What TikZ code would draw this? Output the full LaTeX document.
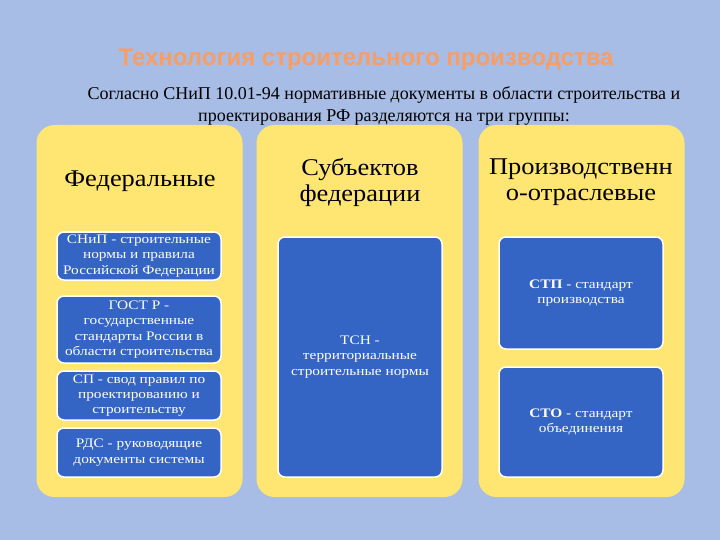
\documentclass[tikz,border=0pt]{standalone}
\usepackage{fontspec}
\setmainfont{Liberation Serif}
\newfontfamily\titlefont{Liberation Sans}
\newfontfamily\headfont[FakeStretch=1.1]{Liberation Serif}
\newfontfamily\itemfont[FakeStretch=1.18]{Liberation Serif}
\usepackage{xcolor}
\usetikzlibrary{positioning}

\definecolor{bgblue}{RGB}{168,189,229}
\definecolor{panelyellow}{RGB}{255,230,115}
\definecolor{itemblue}{RGB}{52,100,196}
\definecolor{titleorange}{RGB}{247,158,102}

\begin{document}
\begin{tikzpicture}[
    x=1pt, y=-1pt,
    panel/.style={fill=panelyellow, rounded corners=18pt, minimum width=206pt, minimum height=372pt, inner sep=0pt},
    item/.style={draw=white, line width=1.5pt, fill=itemblue, rounded corners=7pt, text=white, align=center,
                 font=\itemfont\fontsize{13}{15.3}\selectfont, minimum width=164pt, inner sep=1pt},
    heading/.style={align=center, font=\headfont\fontsize{24}{26}\selectfont},
]

    % Background
    \fill [bgblue] (0,0) rectangle (720,540);

    % Title
    \node [text=titleorange, font=\titlefont\bfseries\fontsize{24}{28}\selectfont] (title) at (366,60) {Технология строительного производства};
    \node [align=center, font=\fontsize{18}{22}\selectfont] (intro) at (384,106)
        {Согласно СНиП 10.01-94 нормативные документы в области строительства и\\проектирования РФ разделяются на три группы:};

    % Panels
    \node [panel] (fed) at (139.5,311) {};
    \node [panel] (subj) at (359.5,311) {};
    \node [panel] (ind) at (581.5,311) {};

    % Headings
    \node [heading] (fedh) at (140,181) {Федеральные};
    \node [heading] (subjh) at (360,182) {Субъектов\\федерации};
    \node [heading] (indh) at (581,182) {Производственн\\о-отраслевые};

    % Federal documents
    \node [item, minimum height=48pt] (snip) at (139,256) {СНиП - строительные\\нормы и правила\\Российской Федерации};
    \node [item, minimum height=67pt] (gost) at (139,329.5) {ГОСТ Р -\\государственные\\стандарты России в\\области строительства};
    \node [item, minimum height=49pt] (sp) at (139,395.5) {СП - свод правил по\\проектированию и\\строительству};
    \node [item, minimum height=49pt] (rds) at (139,452.5) {РДС - руководящие\\документы системы};

    % Regional documents
    \node [item, minimum height=240pt] (tsn) at (360,357) {ТСН -\\территориальные\\строительные нормы};

    % Industry documents
    \node [item, minimum height=112pt] (stp) at (581,293) {\textbf{СТП} - стандарт\\производства};
    \node [item, minimum height=110pt] (sto) at (581,422) {\textbf{СТО} - стандарт\\объединения};

\end{tikzpicture}
\end{document}
